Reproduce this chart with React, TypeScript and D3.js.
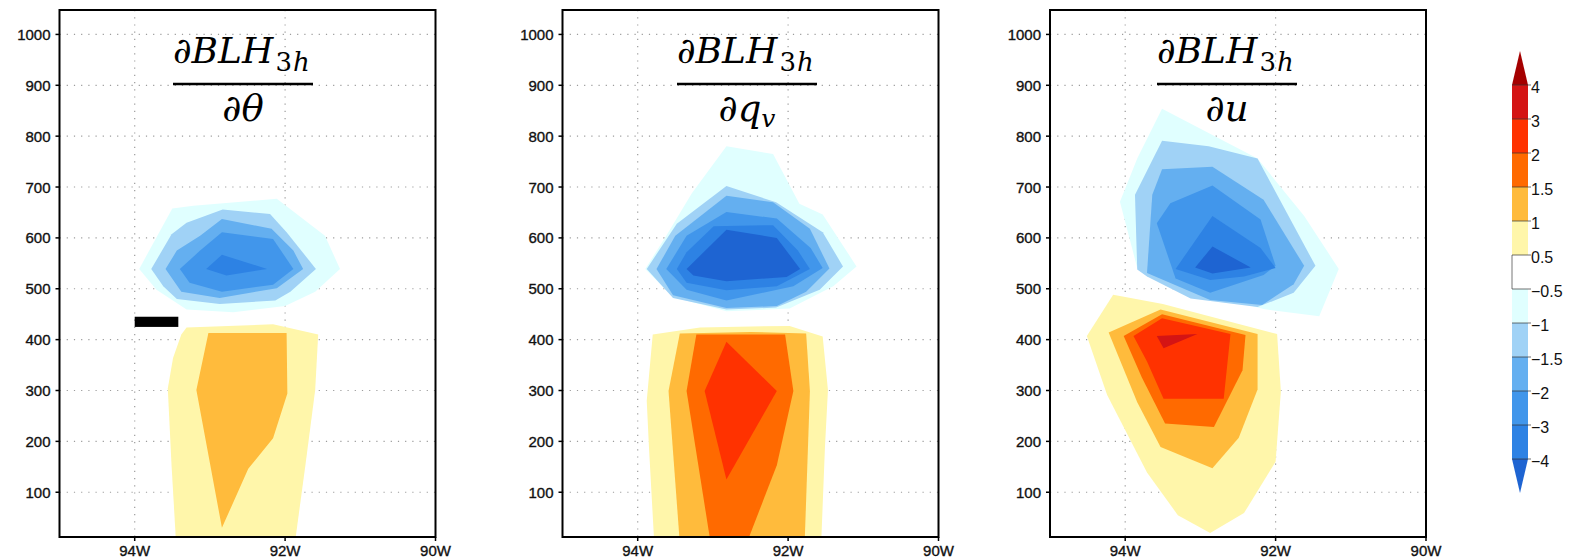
import React from "react";
import * as d3 from "d3";

type Pt = [number, number];
type Shape = { lv: number; pts: Pt[] };

// axis ticks
const lonTicks = [-94, -92, -90];
const lonGrid = [-94, -92];
const hgtTicks = [100, 200, 300, 400, 500, 600, 700, 800, 900, 1000];

// colour bar
const cbarLevels = [4, 3, 2, 1.5, 1, 0.5, -0.5, -1, -1.5, -2, -3, -4];
const cbarLabels = ["4", "3", "2", "1.5", "1", "0.5", "\u22120.5", "\u22121", "\u22121.5", "\u22122", "\u22123", "\u22124"];
// top (> 4) ... bottom (< -4)
const fillColors = [
  "#a50000", "#d41414", "#ff3200", "#ff6a00", "#ffbb3c", "#fff6aa",
  "#ffffff",
  "#e0ffff", "#a0d2f6", "#64aff0", "#4196eb", "#2d82e4", "#1e64d2",
];

// d BLH / d theta
const thetaShapes: Shape[] = [
  { lv: -0.5, pts: [[-93.94, 539], [-93.5, 658], [-93.22, 663], [-92.11, 677], [-91.47, 604], [-91.27, 539], [-91.6, 494], [-92.0, 466], [-92.69, 454], [-93.31, 459], [-93.71, 498]] },
  { lv: -1, pts: [[-93.78, 539], [-93.51, 607], [-93.31, 630], [-92.83, 656], [-92.2, 647], [-91.98, 611], [-91.59, 539], [-91.93, 494], [-92.13, 477], [-92.87, 470], [-93.44, 480], [-93.62, 505]] },
  { lv: -1.5, pts: [[-93.59, 539], [-93.44, 575], [-93.13, 604], [-92.84, 637], [-92.18, 618], [-91.89, 575], [-91.76, 539], [-92.11, 501], [-92.87, 482], [-93.38, 494]] },
  { lv: -2, pts: [[-93.4, 539], [-93.13, 575], [-92.84, 611], [-92.16, 598], [-91.89, 539], [-92.16, 508], [-92.84, 494], [-93.27, 512]] },
  { lv: -3, pts: [[-93.05, 539], [-92.84, 567], [-92.24, 539], [-92.78, 526]] },
  { lv: 0.5, pts: [[-93.38, 410], [-93.31, 424], [-92.16, 430], [-91.56, 410], [-91.6, 301], [-91.73, 153], [-91.87, 0], [-93.45, 0], [-93.51, 153], [-93.56, 304], [-93.49, 364]] },
  { lv: 1, pts: [[-93.02, 413], [-91.98, 413], [-91.97, 294], [-92.16, 206], [-92.49, 146], [-92.84, 30], [-93.18, 301]] },
];

// d BLH / d qv
const qvShapes: Shape[] = [
  { lv: -0.5, pts: [[-93.9, 539], [-93.62, 604], [-93.28, 688], [-92.82, 780], [-92.2, 765], [-91.85, 667], [-91.54, 646], [-91.09, 544], [-91.4, 505], [-91.98, 461], [-92.82, 456], [-93.53, 484]] },
  { lv: -1, pts: [[-93.88, 539], [-93.48, 628], [-92.82, 702], [-92.16, 670], [-91.54, 611], [-91.27, 544], [-91.58, 498], [-92.16, 463], [-92.82, 459], [-93.53, 482]] },
  { lv: -1.5, pts: [[-93.75, 539], [-93.5, 604], [-92.82, 683], [-92.2, 670], [-91.71, 618], [-91.45, 540], [-91.76, 494], [-92.15, 466], [-92.82, 462], [-93.53, 487]] },
  { lv: -2, pts: [[-93.62, 539], [-93.35, 604], [-92.82, 651], [-92.15, 638], [-91.7, 580], [-91.54, 541], [-91.93, 505], [-92.82, 477], [-93.35, 498]] },
  { lv: -3, pts: [[-93.48, 539], [-93.35, 572], [-92.99, 623], [-92.2, 625], [-91.87, 575], [-91.71, 539], [-92.15, 505], [-92.82, 497], [-93.35, 512]] },
  { lv: -4, pts: [[-93.35, 539], [-92.82, 616], [-92.15, 600], [-91.84, 539], [-92.02, 523], [-92.82, 515], [-93.26, 526]] },
  { lv: 0.5, pts: [[-93.8, 410], [-93.17, 424], [-91.98, 427], [-91.54, 406], [-91.47, 301], [-91.51, 188], [-91.56, 0], [-93.78, 0], [-93.85, 188], [-93.88, 280]] },
  { lv: 1, pts: [[-93.44, 412], [-92.5, 415], [-91.76, 412], [-91.71, 299], [-91.78, 0], [-93.44, 0], [-93.59, 299]] },
  { lv: 1.5, pts: [[-93.22, 410], [-92.04, 410], [-91.93, 299], [-92.15, 153], [-92.55, 0], [-93.03, 0], [-93.35, 299]] },
  { lv: 2, pts: [[-92.82, 396], [-92.15, 299], [-92.82, 125], [-93.11, 299]] },
];

// d BLH / d u
const uShapes: Shape[] = [
  { lv: -0.5, pts: [[-93.51, 854], [-92.24, 756], [-91.62, 643], [-91.16, 539], [-91.42, 446], [-92.16, 460], [-92.69, 481], [-93.31, 502], [-93.84, 541], [-94.07, 671], [-93.84, 756]] },
  { lv: -1, pts: [[-93.87, 685], [-93.51, 791], [-92.89, 780], [-92.24, 756], [-91.98, 685], [-91.47, 545], [-91.76, 492], [-92.24, 464], [-93.13, 481], [-93.71, 524], [-93.84, 538]] },
  { lv: -1.5, pts: [[-93.64, 685], [-93.51, 735], [-92.84, 740], [-92.16, 675], [-91.62, 545], [-91.76, 509], [-92.18, 468], [-92.87, 478], [-93.71, 531]] },
  { lv: -2, pts: [[-92.84, 703], [-92.2, 636], [-92.0, 545], [-92.16, 527], [-92.87, 492], [-93.33, 520], [-93.58, 629], [-93.4, 668]] },
  { lv: -3, pts: [[-93.33, 539], [-92.84, 643], [-92.2, 580], [-92.0, 541], [-92.42, 524], [-92.87, 517]] },
  { lv: -4, pts: [[-93.07, 542], [-92.84, 583], [-92.33, 542], [-92.84, 530]] },
  { lv: 0.5, pts: [[-94.51, 407], [-94.16, 488], [-93.5, 470], [-91.98, 411], [-91.93, 298], [-92.0, 160], [-92.42, 59], [-92.87, 20], [-93.3, 55], [-93.71, 139], [-94.24, 291]] },
  { lv: 1, pts: [[-94.22, 414], [-93.53, 459], [-92.24, 411], [-92.24, 302], [-92.49, 207], [-92.84, 147], [-93.53, 189], [-93.84, 277]] },
  { lv: 1.5, pts: [[-94.02, 407], [-93.51, 450], [-92.4, 409], [-92.44, 340], [-92.82, 228], [-93.47, 235], [-93.78, 326]] },
  { lv: 2, pts: [[-93.89, 407], [-93.51, 442], [-92.6, 411], [-92.69, 284], [-93.49, 284], [-93.71, 357]] },
  { lv: 3, pts: [[-93.58, 407], [-93.04, 411], [-93.49, 383]] },
];

// black marker bar in first panel [lon0, lon1, h0, h1]
const markBar = [-94, -93.42, 425, 445];

const panels = [
  { left: 59.5, tcx: 243, shapes: thetaShapes, den: "\u2202\u03b8", denSub: "", bar: true },
  { left: 562.5, tcx: 747, shapes: qvShapes, den: "\u2202q", denSub: "v", bar: false },
  { left: 1050, tcx: 1227, shapes: uShapes, den: "\u2202u", denSub: "", bar: false },
];

function colorFor(lv: number) {
  const i = cbarLevels.indexOf(lv);
  return lv > 0 ? fillColors[i] : fillColors[i + 1];
}

export default function App() {
  const W = 1575;
  const H = 560;
  const top = 10;
  const pw = 376;
  const ph = 527;

  const x = d3.scaleLinear().domain([-95, -90]).range([0, pw]);
  const y = d3.scaleLinear().domain([12, 1048]).range([ph, 0]);
  const path = d3
    .line<Pt>()
    .x((d) => x(d[0]))
    .y((d) => y(d[1]))
    .curve(d3.curveLinearClosed);

  const tickFont = {
    fontFamily: "Liberation Sans, Arial, sans-serif",
    fontSize: 15,
    fill: "#111",
    stroke: "#111",
    strokeWidth: 0.35,
  };
  const serif = "DejaVu Serif, serif";

  // colour bar scale
  const cbX = 1512;
  const cbW = 16;
  const cb = d3.scaleLinear().domain([0, cbarLevels.length - 1]).range([85, 459]);
  const step = cb(1) - cb(0);

  return (
    <div style={{ position: "fixed", left: 0, top: 0 }}>
      <svg width={W} height={H} style={{ display: "block", background: "#fff" }}>
        <defs>
          <clipPath id="pclip">
            <rect x={0} y={0} width={pw} height={ph} />
          </clipPath>
        </defs>
        {panels.map((p, pi) => (
          <g key={pi} transform={`translate(${p.left},${top})`}>
            {/* grid */}
            <g stroke="#9c9c9c" strokeWidth={1.2} strokeDasharray="1.2 6">
              {hgtTicks.map((t) => (
                <line key={t} x1={0} x2={pw} y1={y(t)} y2={y(t)} />
              ))}
              {lonGrid.map((t) => (
                <line key={t} x1={x(t)} x2={x(t)} y1={0} y2={ph} />
              ))}
            </g>
            {/* filled contours */}
            <g clipPath="url(#pclip)">
              {p.shapes.map((s, si) => (
                <path key={si} d={path(s.pts) || ""} fill={colorFor(s.lv)} />
              ))}
            </g>
            {p.bar && (
              <rect
                x={x(markBar[0])}
                y={y(markBar[3])}
                width={x(markBar[1]) - x(markBar[0])}
                height={y(markBar[2]) - y(markBar[3])}
                fill="#000"
              />
            )}
            {/* frame */}
            <rect x={0} y={0} width={pw} height={ph} fill="none" stroke="#000" strokeWidth={2} />
            {/* y ticks */}
            {hgtTicks.map((t) => (
              <g key={t}>
                <line x1={-4} x2={0} y1={y(t)} y2={y(t)} stroke="#000" strokeWidth={1.5} />
                <text x={-9} y={y(t)} textAnchor="end" dominantBaseline="central" {...tickFont}>
                  {t}
                </text>
              </g>
            ))}
            {/* x ticks */}
            {lonTicks.map((t) => (
              <g key={t}>
                <line x1={x(t)} x2={x(t)} y1={ph} y2={ph + 4} stroke="#000" strokeWidth={1.5} />
                <text x={x(t)} y={ph + 19} textAnchor="middle" {...tickFont}>
                  {`${Math.abs(t)}W`}
                </text>
              </g>
            ))}
          </g>
        ))}

        {/* titles */}
        {panels.map((p, pi) => (
          <g key={"t" + pi} fontFamily={serif} fill="#000">
            <text x={p.tcx - 70} y={63} fontSize={36} fontStyle="italic">
              {"\u2202BLH"}
              <tspan dx={2} dy={8} fontSize={26} fontStyle="normal">3</tspan>
              <tspan dx={1} fontSize={26} fontStyle="italic">h</tspan>
            </text>
            <line x1={p.tcx - 70} x2={p.tcx + 70} y1={84} y2={84} stroke="#000" strokeWidth={2.5} />
            <text x={p.tcx} y={121} fontSize={37} fontStyle="italic" textAnchor="middle">
              {p.den}
              {p.denSub && (
                <tspan dy={6} fontSize={25}>
                  {p.denSub}
                </tspan>
              )}
            </text>
          </g>
        ))}

        {/* colour bar */}
        <g>
          <path
            d={`M${cbX},${cb(0)} L${cbX + cbW / 2},${cb(0) - step} L${cbX + cbW},${cb(0)} Z`}
            fill={fillColors[0]}
          />
          {cbarLevels.slice(0, -1).map((lv, i) => (
            <rect key={lv} x={cbX} y={cb(i)} width={cbW} height={step} fill={fillColors[i + 1]} />
          ))}
          <path
            d={`M${cbX},${cb(11)} L${cbX + cbW / 2},${cb(11) + step} L${cbX + cbW},${cb(11)} Z`}
            fill={fillColors[12]}
          />
          <line x1={cbX} x2={cbX} y1={cb(5)} y2={cb(6)} stroke="#777" strokeWidth={1} />
          {cbarLevels.map((lv, i) => (
            <g key={lv}>
              <line x1={cbX} x2={cbX + cbW + 3} y1={cb(i)} y2={cb(i)} stroke="#333" strokeOpacity={0.7} strokeWidth={1} />
              <text
                x={cbX + cbW + 3}
                y={cb(i) + 2}
                dominantBaseline="central"
                fontFamily="Liberation Sans, Arial, sans-serif"
                fontSize={16}
                fill="#111"
              >
                {cbarLabels[i]}
              </text>
            </g>
          ))}
        </g>
      </svg>
    </div>
  );
}
